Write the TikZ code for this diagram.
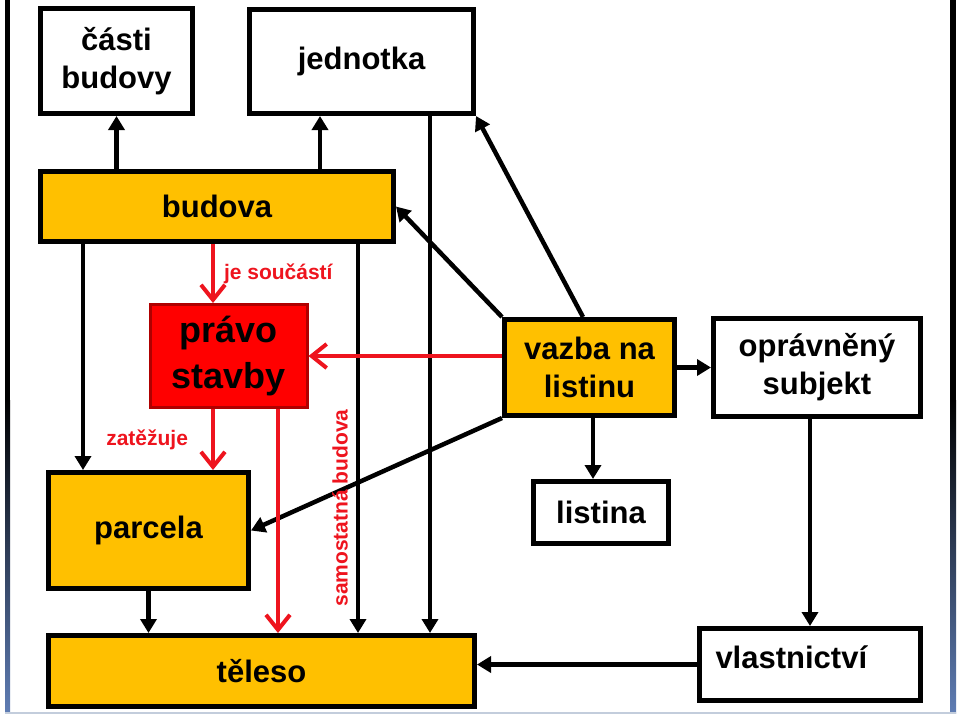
\documentclass[tikz,border=0pt]{standalone}
\usepackage{fontspec}
\setmainfont{Liberation Sans}
\usetikzlibrary{arrows.meta,positioning,calc}
\definecolor{budorange}{RGB}{255,192,0}
\definecolor{pravored}{RGB}{255,0,0}
\definecolor{pravoborder}{RGB}{175,0,0}
\definecolor{linkred}{RGB}{238,20,30}
\definecolor{slideblue}{RGB}{95,125,180}
\definecolor{slidegray}{RGB}{195,205,220}

\begin{document}
\begin{tikzpicture}[x=1pt,y=-1pt,
    box/.style={draw=black,line width=5pt,fill=white,inner sep=0pt,align=center,
                font=\fontsize{31}{38}\selectfont\bfseries},
    orangebox/.style={box,fill=budorange},
    arr/.style={line width=4.5pt,-{Triangle[length=14pt,width=16pt]}},
    redarr/.style={draw=linkred,line width=4pt,-{Straight Barb[length=15pt,width=24pt]}},
    redlbl/.style={text=linkred,inner sep=0pt,font=\fontsize{21}{25}\selectfont\bfseries}]
    \useasboundingbox (0,0) rectangle (960,716);

    % slide frame
    \fill[black] (5,0) rectangle (10,400);
    \shade[top color=black,bottom color=slideblue] (5,400) rectangle (10,713);
    \fill[black] (950,0) rectangle (956,400);
    \shade[top color=black,bottom color=slideblue] (950,400) rectangle (956,713);
    \draw[slidegray,line width=1.5pt] (5,713) -- (956,713);

    % boxes
    \node[box,minimum width=152pt,minimum height=105pt] (casti) at (116.5,61) {části\\budovy};
    \node[box,minimum width=224pt,minimum height=104pt] (jednotka) at (361.5,61.5) {jednotka};
    \node[orangebox,minimum width=353pt,minimum height=70pt] (budova) at (217,206.5) {budova};
    \node[box,fill=pravored,draw=pravoborder,line width=3pt,minimum width=157pt,minimum height=103pt,
          font=\fontsize{36}{46}\selectfont\bfseries] (pravo) at (228.5,356) {právo\\stavby};
    \node[orangebox,minimum width=170pt,minimum height=96pt] (vazba) at (589.5,367.5) {vazba na\\listinu};
    \node[box,minimum width=207pt,minimum height=98pt] (opravneny) at (817,367.5) {oprávněný\\subjekt};
    \node[box,minimum width=135pt,minimum height=62pt] (listina) at (601,512.5) {listina};
    \node[orangebox,minimum width=200pt,minimum height=116pt] (parcela) at (148.5,530.5) {parcela};
    \node[orangebox,minimum width=426pt,minimum height=71pt] (teleso) at (261.5,671) {těleso};
    \node[box,minimum width=221pt,minimum height=72pt,text width=189pt,align=left,
          text depth=14pt] (vlastnictvi) at (810,664.5) {vlastnictví};

    % black links
    \draw[arr] (casti |- budova.north) -- (casti.south);
    \draw[arr] ([xshift=-41.5pt]jednotka.south |- budova.north) -- ([xshift=-41.5pt]jednotka.south);
    \draw[arr] ([xshift=-65.5pt]parcela.north |- budova.south) -- ([xshift=-65.5pt]parcela.north);
    \draw[arr] ([xshift=96.5pt]teleso.north |- budova.south) -- ([xshift=96.5pt]teleso.north);
    \draw[arr] ([xshift=168.5pt]teleso.north |- jednotka.south) -- ([xshift=168.5pt]teleso.north);
    \draw[arr] (parcela.south) -- (parcela.south |- teleso.north);
    \draw[arr] (vazba.north west) -- (budova.east);
    \draw[arr] ([xshift=-6.5pt]vazba.north) -- (jednotka.south east);
    \draw[arr] (vazba.south west) -- (parcela.east);
    \draw[arr] ([xshift=-8pt]listina.north |- vazba.south) -- ([xshift=-8pt]listina.north);
    \draw[arr] (vazba.east) -- (vazba.east -| opravneny.west);
    \draw[arr] (vlastnictvi.north |- opravneny.south) -- (vlastnictvi.north);
    \draw[arr] (vlastnictvi.west) -- (vlastnictvi.west -| teleso.east);

    % red links
    \draw[redarr] ([xshift=-15.5pt]pravo.north |- budova.south) -- ([xshift=-15.5pt]pravo.north)
        node[redlbl,midway,right=9pt] (soucasti) {je součástí};
    \draw[redarr] ([xshift=-15.5pt]pravo.south) -- ([xshift=-15.5pt]pravo.south |- parcela.north)
        node[redlbl,midway,left=23pt] (zatezuje) {zatěžuje};
    \draw[redarr] ([xshift=49.5pt]pravo.south) -- ([xshift=49.5pt]pravo.south |- teleso.north);
    \draw[redarr] (vazba.west |- pravo.east) -- (pravo.east);
    \node[redlbl,rotate=90] (samostatna) at (340,508) {samostatná budova};
\end{tikzpicture}
\end{document}
